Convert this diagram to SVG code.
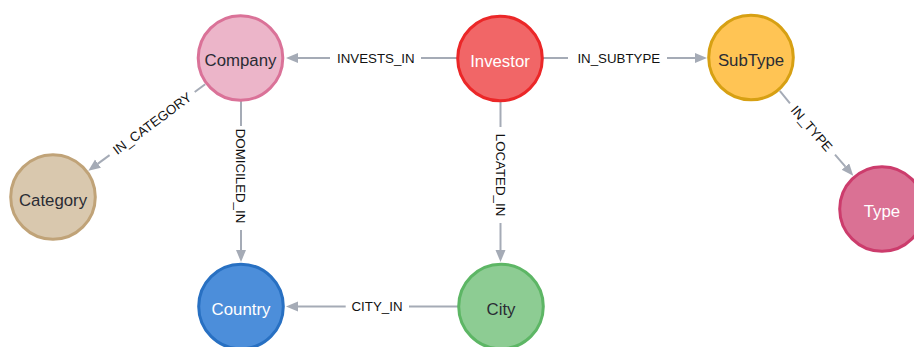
<svg xmlns="http://www.w3.org/2000/svg" width="914" height="347" viewBox="0 0 914 347">
<style>
.node circle{stroke-width:3}
.node text{font-family:"Liberation Sans",Arial,sans-serif;font-size:16.8px;text-anchor:middle}
.dark{fill:#2a2c34}
.light{fill:#ffffff}
.edge line{stroke:#a5abb6;stroke-width:2;fill:none}
.elabel{font-family:"Liberation Sans",Arial,sans-serif;font-size:13.3px;text-anchor:middle;fill:#111}
</style>
<defs>
<marker id="arr" markerUnits="userSpaceOnUse" markerWidth="13" markerHeight="11" refX="0" refY="5" orient="auto" viewBox="0 0 13 11">
<path d="M0,0 L12,5 L0,10 z" fill="#a5abb6"/>
</marker>
</defs>
<rect width="914" height="347" fill="#ffffff"/>
<g id="connectors" class="edge">
<g id="e-invests">
<line x1="457" y1="58" x2="421" y2="58"/>
<line x1="330" y1="58" x2="298" y2="58" marker-end="url(#arr)"/>
<text class="elabel" x="375.8" y="62.7">INVESTS_IN</text>
</g>
<g id="e-subtype">
<line x1="543" y1="58" x2="568" y2="58"/>
<line x1="667" y1="58" x2="695" y2="58" marker-end="url(#arr)"/>
<text class="elabel" x="618.8" y="62.7">IN_SUBTYPE</text>
</g>
<g id="e-category">
<line x1="205.2" y1="84.2" x2="194.7" y2="92"/>
<line x1="109.6" y1="155.1" x2="98" y2="163.6" marker-end="url(#arr)"/>
<text class="elabel" transform="translate(152.1,123.5) rotate(-36.6)" x="0" y="4.7">IN_CATEGORY</text>
</g>
<g id="e-domiciled">
<line x1="241" y1="101" x2="241" y2="126"/>
<line x1="241" y1="230" x2="241" y2="250" marker-end="url(#arr)"/>
<text class="elabel" transform="translate(241,176) rotate(90)" x="0" y="4.7">DOMICILED_IN</text>
</g>
<g id="e-located">
<line x1="500.5" y1="101" x2="500.5" y2="127"/>
<line x1="500.5" y1="223" x2="500.5" y2="250" marker-end="url(#arr)"/>
<text class="elabel" transform="translate(500.5,175) rotate(90)" x="0" y="4.7">LOCATED_IN</text>
</g>
<g id="e-cityin">
<line x1="458" y1="306.5" x2="409" y2="306.5"/>
<line x1="345.7" y1="306.5" x2="298" y2="306.5" marker-end="url(#arr)"/>
<text class="elabel" x="377" y="311.2">CITY_IN</text>
</g>
<g id="e-intype">
<line x1="779.8" y1="90.8" x2="790" y2="103.3"/>
<line x1="835" y1="154.6" x2="845.4" y2="166.6" marker-end="url(#arr)"/>
<text class="elabel" transform="translate(811.7,128.5) rotate(49.2)" x="0" y="4.7">IN_TYPE</text>
</g>
</g>
<g id="company" class="node">
<circle cx="240.5" cy="58" r="42.3" fill="#ecb5c9" stroke="#da7298"/>
<text class="dark" x="240.5" y="66">Company</text>
</g>
<g id="investor" class="node">
<circle cx="500" cy="58.5" r="42.3" fill="#f16667" stroke="#eb2728"/>
<text class="light" x="500" y="66.5">Investor</text>
</g>
<g id="subtype" class="node">
<circle cx="751" cy="57.5" r="42.3" fill="#ffc454" stroke="#d7a013"/>
<text class="dark" x="751" y="65.5">SubType</text>
</g>
<g id="category" class="node">
<circle cx="53" cy="197" r="42.3" fill="#d9c8ae" stroke="#c0a378"/>
<text class="dark" x="53" y="205.5">Category</text>
</g>
<g id="country" class="node">
<circle cx="241" cy="306.5" r="42.3" fill="#4c8eda" stroke="#2870c2"/>
<text class="light" x="241" y="314.5">Country</text>
</g>
<g id="city" class="node">
<circle cx="501" cy="306.5" r="42.3" fill="#8dcc93" stroke="#5db665"/>
<text class="dark" x="501" y="314.5">City</text>
</g>
<g id="type" class="node">
<circle cx="882" cy="209" r="42.3" fill="#da7194" stroke="#cc3c6c"/>
<text class="light" x="882" y="217">Type</text>
</g>
</svg>
